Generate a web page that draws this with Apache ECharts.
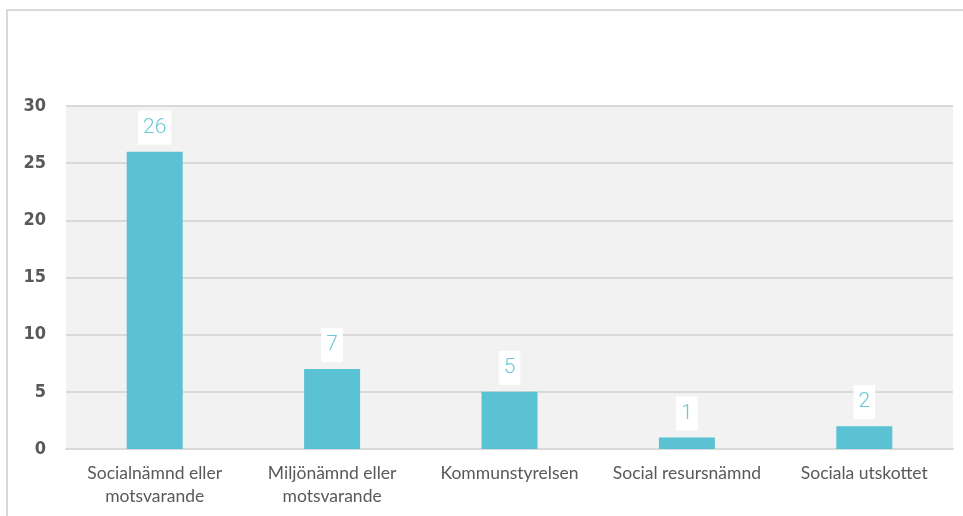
<!DOCTYPE html>
<html>
<head>
<meta charset="utf-8">
<script src="https://cdn.jsdelivr.net/npm/echarts@6/dist/echarts.min.js"></script>
<style>
  html, body { margin: 0; padding: 0; background: #fff; }
  #chart { width: 963px; height: 516px; }
</style>
</head>
<body>
<div id="chart"></div>
<script>
const categories = ['Socialnämnd eller\nmotsvarande', 'Miljönämnd eller\nmotsvarande', 'Kommunstyrelsen', 'Social resursnämnd', 'Sociala utskottet']
const values = [26, 7, 5, 1, 2]
const yTicks = { min: 0, max: 30, interval: 5 }

const myChart = echarts.init(document.getElementById('chart'))
const option = {
  animation: false,
  graphic: [
    {
      type: 'rect',
      shape: { x: 7, y: 10, width: 1000, height: 600 },
      style: { fill: 'none', stroke: '#d9d9d9', lineWidth: 2 },
      silent: true
    }
  ],
  grid: {
    left: 66,
    right: 10,
    top: 106,
    bottom: 67,
    show: true,
    backgroundColor: '#f2f2f2',
    borderWidth: 0
  },
  xAxis: {
    type: 'category',
    data: categories,
    axisLine: { show: true, lineStyle: { color: '#d9d9d9', width: 2 } },
    axisTick: { show: false },
    axisLabel: {
      color: '#595959',
      fontFamily: 'Lato, sans-serif',
      fontSize: 17.5,
      lineHeight: 23,
      margin: 13,
      interval: 0
    }
  },
  yAxis: {
    type: 'value',
    min: yTicks.min,
    max: yTicks.max,
    interval: yTicks.interval,
    axisLine: { show: false },
    axisTick: { show: false },
    splitLine: { lineStyle: { color: '#d9d9d9', width: 2 } },
    axisLabel: {
      color: '#595959',
      fontFamily: '"DejaVu Sans Condensed", sans-serif',
      fontWeight: 'bold',
      fontSize: 18,
      margin: 20
    }
  },
  series: [
    {
      type: 'bar',
      data: values,
      barWidth: 56,
      itemStyle: { color: '#5bc2d3' },
      label: {
        show: true,
        position: 'top',
        distance: 7,
        color: '#6cc9d9',
        fontFamily: 'Roboto, sans-serif',
        fontWeight: 300,
        fontSize: 21,
        lineHeight: 24,
        backgroundColor: '#ffffff',
        padding: [5, 5, 5, 5]
      }
    }
  ]
}
myChart.setOption(option)
</script>
</body>
</html>
